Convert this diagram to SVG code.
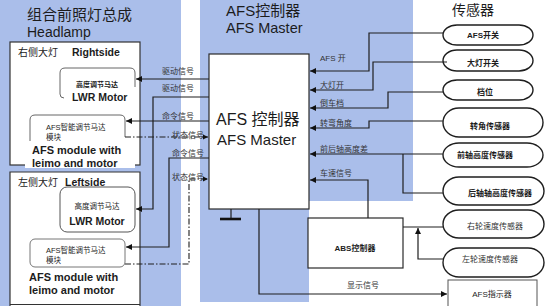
<svg xmlns="http://www.w3.org/2000/svg" width="550" height="306" viewBox="0 0 550 306">
<defs>
<style>
text{font-family:"Liberation Sans","Noto Sans CJK SC",sans-serif;fill:#1c1c1c}
.cn{font-family:"Noto Sans CJK SC","Liberation Sans",sans-serif}
.lbl{font-size:8px;fill:#333}
.sen{font-size:8px;font-weight:bold;text-anchor:middle}
.senl{font-size:8px;text-anchor:middle;fill:#333}
.ln{fill:none;stroke:#1e1e1e;stroke-width:1.2}
.dd{fill:none;stroke:#1e1e1e;stroke-width:1.1;stroke-dasharray:6 2 1.5 2}
.box{fill:#fff;stroke:#2a2a2a;stroke-width:1.2}
.stad{fill:#fff;stroke:#1e1e1e;stroke-width:1.4}
.mod{fill:none;stroke:#666;stroke-width:1}
.bold{font-weight:bold}
</style>
<marker id="ah" viewBox="0 0 8 8" refX="8" refY="4" markerWidth="5" markerHeight="5" orient="auto">
<path d="M0,0 L8,4 L0,8 z" fill="#111"/>
</marker>
</defs>
<rect width="550" height="306" fill="#fff"/>
<!-- panels -->
<rect x="0" y="0" width="181" height="306" fill="#AABEEA"/>
<rect x="200" y="0" width="213" height="201" fill="#AABEEA"/>
<rect x="200" y="201" width="109" height="101" fill="#AABEEA"/>

<g id="headlamp-title">
<text class="cn" x="27" y="20" font-size="15" fill="#3a3a4a">组合前照灯总成</text>
<text x="27" y="37" font-size="14" fill="#2a2a3a">Headlamp</text>
</g>
<g id="master-title">
<text x="226" y="16" font-size="15" fill="#222">AFS控制器</text>
<text x="226" y="33" font-size="14.5" fill="#222">AFS Master</text>
</g>
<g id="sensor-title">
<text class="cn" x="452" y="15" font-size="14" fill="#333">传感器</text>
</g>

<g id="rightside">
<rect x="10" y="42" width="130" height="123" fill="#fff" stroke="#333" stroke-width="1.2"/>
<text class="cn" x="18" y="56" font-size="10" fill="#555">右侧大灯</text>
<text class="bold" x="72" y="56" font-size="10.5">Rightside</text>
</g>
<g id="right-lwr">
<path class="mod" d="M60,94 V73 Q60,68 65,68 H130 Q135,68 135,73 V87" stroke="#444"/>
<path class="mod" d="M60,94 Q60,98 64,98" stroke="#444"/>
<text class="cn bold" x="97" y="87" font-size="7" text-anchor="middle" fill="#333">高度调节马达</text>
<text class="bold" x="72" y="101" font-size="10.5">LWR Motor</text>
</g>
<g id="right-afs">
<path class="mod" d="M30,141 V120 Q30,115 35,115 H120 Q125,115 125,120 V137"/>
<text x="46" y="130" font-size="7.5" fill="#555">AFS智能调节马达</text>
<text class="cn" x="46" y="140" font-size="7.5" fill="#555">模块</text>
<rect x="25" y="141" width="110" height="27" fill="#fff"/>
<text class="bold" x="32" y="154" font-size="11">AFS module with</text>
<text class="bold" x="32" y="167" font-size="11">leimo and motor</text>
</g>

<g id="leftside">
<path d="M10,306 V172 H140 V306" fill="#fff" stroke="#333" stroke-width="1.2"/>
<line x1="10" y1="304.5" x2="140" y2="304.5" stroke="#333" stroke-width="1.2"/>
<text class="cn" x="18" y="186" font-size="10" fill="#555">左侧大灯</text>
<text class="bold" x="65" y="186" font-size="10.5">Leftside</text>
</g>
<g id="left-lwr">
<rect x="60" y="187" width="75" height="45" rx="7" fill="#fff" stroke="#555" stroke-width="1"/>
<text class="cn" x="97" y="209" font-size="7.5" text-anchor="middle" fill="#555">高度调节马达</text>
<text class="bold" x="97" y="225" font-size="10.5" text-anchor="middle">LWR Motor</text>
</g>
<g id="left-afs">
<rect x="30" y="239" width="95" height="28" rx="5" fill="#fff" stroke="#777" stroke-width="1"/>
<text x="46" y="253" font-size="7.5" fill="#555">AFS智能调节马达</text>
<text class="cn" x="46" y="263" font-size="7.5" fill="#555">模块</text>
<text class="bold" x="29" y="281" font-size="11">AFS module with</text>
<text class="bold" x="29" y="294" font-size="11">leimo and motor</text>
</g>

<g id="master">
<rect class="box" x="209" y="54" width="100" height="155"/>
<text x="216" y="125" font-size="16">AFS 控制器</text>
<text x="217" y="145" font-size="15">AFS Master</text>
<line x1="231" y1="209" x2="231" y2="219" stroke="#1e1e1e" stroke-width="1.2"/>
<line x1="220" y1="219" x2="241" y2="219" stroke="#111" stroke-width="2.6"/>
</g>

<g id="abs">
<rect class="box" x="308" y="218" width="95" height="50"/>
<text class="bold" x="355" y="251" font-size="8" text-anchor="middle">ABS控制器</text>
</g>

<g id="afs-indicator">
<rect x="448" y="280" width="89" height="30" fill="#fff" stroke="#555" stroke-width="1"/>
<text x="492" y="297" font-size="8" text-anchor="middle" fill="#333">AFS指示器</text>
</g>

<g id="sensors">
<g id="s-afs"><rect class="stad" x="443" y="25" width="90" height="20" rx="14" ry="10"/><text class="sen" x="483" y="38">AFS开关</text></g>
<g id="s-head"><rect class="stad" x="443" y="50" width="90" height="21" rx="14" ry="10.5"/><text class="sen" x="483" y="66">大灯开关</text></g>
<g id="s-gear"><rect class="stad" x="443" y="80" width="90" height="20" rx="14" ry="10"/><text class="sen" x="485" y="95">档位</text></g>
<g id="s-steer"><rect class="stad" x="443" y="108" width="100" height="29" rx="16" ry="14.5"/><text class="sen" x="490" y="129">转角传感器</text></g>
<g id="s-front"><rect class="stad" x="443" y="143" width="100" height="24" rx="16" ry="12"/><text class="sen" x="485" y="158">前轴高度传感器</text></g>
<g id="s-rear"><rect class="stad" x="443" y="177" width="101" height="28" rx="16" ry="14"/><text class="sen" x="500" y="196">后轴轴高度传感器</text></g>
<g id="s-rwheel"><rect class="stad" x="443" y="210" width="101" height="28" rx="16" ry="14"/><text class="senl" x="495" y="229">右轮速度传感器</text></g>
<g id="s-lwheel"><rect class="stad" x="443" y="248" width="101" height="29" rx="16" ry="14.5"/><text class="senl" x="490" y="262">左轮速度传感器</text></g>
</g>

<g id="connectors">
<!-- sensors to master -->
<path class="ln" d="M443,33 H369 V71 H310" marker-end="url(#ah)"/>
<path class="ln" d="M447,62 H373 V90 H310" marker-end="url(#ah)"/>
<path class="ln" d="M443,92 H388 V108 H310" marker-end="url(#ah)"/>
<path class="ln" d="M443,121 H369 V128 H310" marker-end="url(#ah)"/>
<path class="ln" d="M443,154 H310" marker-end="url(#ah)"/>
<path class="ln" d="M443,193 H403 V154"/>
<path class="ln" d="M368,218 V180 H310" marker-end="url(#ah)"/>
<path class="ln" d="M403,227 H443"/>
<path class="ln" d="M443,259 H418 V228" marker-end="url(#ah)"/>
<path class="ln" d="M259,209 V294 H447" marker-end="url(#ah)"/>
<!-- master to headlamps -->
<path class="ln" d="M209,79 H136" marker-end="url(#ah)"/>
<path class="ln" d="M209,97 H153 V209 H136" marker-end="url(#ah)"/>
<path class="ln" d="M209,121 H126" marker-end="url(#ah)"/>
<path class="ln" d="M209,158 H169 V247 H126" marker-end="url(#ah)"/>
<path class="dd" d="M125,137 H208" marker-end="url(#ah)"/>
<path class="dd" d="M125,264 H189 V179 H208" marker-end="url(#ah)"/>
<!-- labels -->
<text class="lbl" x="320" y="61">AFS 开</text>
<text class="lbl" x="320" y="88">大灯开</text>
<text class="lbl" x="320" y="106">倒车档</text>
<text class="lbl" x="320" y="126">转弯角度</text>
<text class="lbl" x="320" y="152">前后轴高度差</text>
<text class="lbl" x="320" y="176">车速信号</text>
<text class="lbl" x="347" y="288">显示信号</text>
<text class="lbl" x="162" y="74">驱动信号</text>
<text class="lbl" x="162" y="91">驱动信号</text>
<text class="lbl" x="162" y="119">命令信号</text>
<text class="lbl" x="172" y="138">状态信号</text>
<text class="lbl" x="172" y="156">命令信号</text>
<text class="lbl" x="172" y="180">状态信号</text>
</g>
</svg>
